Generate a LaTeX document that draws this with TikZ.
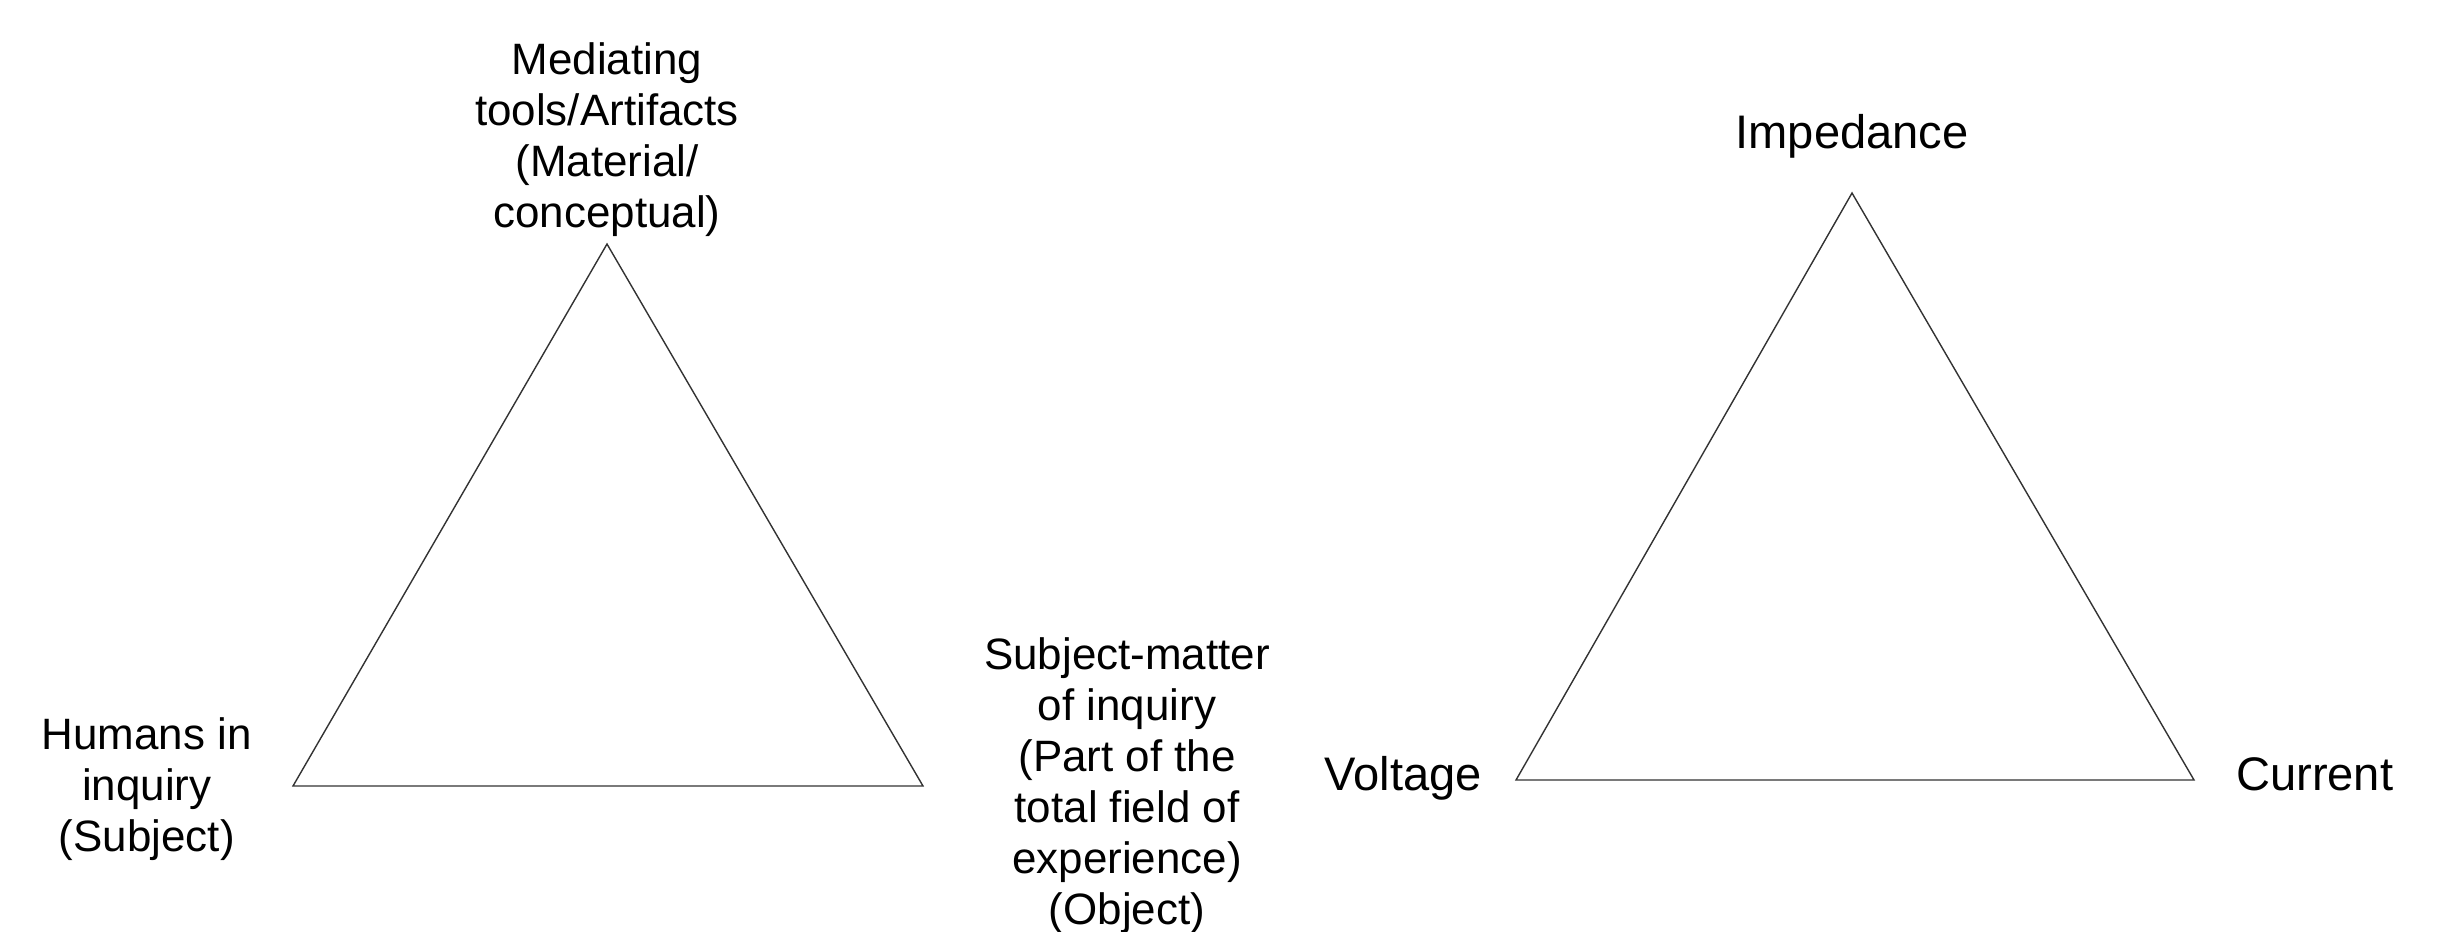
\documentclass[tikz,border=0pt]{standalone}
\usepackage{fontspec}
\setmainfont{Liberation Sans}
\usepackage{xcolor}
\usepackage{tikz}
\usetikzlibrary{positioning}

\begin{document}
\begin{tikzpicture}[
    lbl/.style={align=center, inner sep=1pt, font=\fontsize{12.5}{14.5}\selectfont},
    biglbl/.style={inner sep=1pt, font=\fontsize{13.4}{15.5}\selectfont},
    edge/.style={draw=black!80, line width=0.4pt}
]
    \useasboundingbox (0,0) rectangle (24.4,-9.31);
    % activity triangle
    \coordinate (medTop) at (6.07,-2.44);
    \coordinate (humLeft) at (2.93,-7.86);
    \coordinate (objRight) at (9.23,-7.86);
    \draw[edge] (medTop) -- (humLeft) -- (objRight) -- cycle;
    \node[lbl, above=0.03cm of medTop] (med) {Mediating\\tools/Artifacts\\(Material/\\conceptual)};
    \node[lbl, left=0.37cm of humLeft, yshift=-0.03cm] (hum) {Humans in\\inquiry\\(Subject)};
    \node[lbl, right=0.57cm of objRight] (obj) {Subject-matter\\of inquiry\\(Part of the\\total field of\\experience)\\(Object)};

    % electrical triangle
    \coordinate (impTop) at (18.52,-1.93);
    \coordinate (voltLeft) at (15.16,-7.80);
    \coordinate (currRight) at (21.94,-7.80);
    \draw[edge] (impTop) -- (voltLeft) -- (currRight) -- cycle;
    \node[biglbl, above=0.31cm of impTop] (imp) {Impedance};
    \node[biglbl, left=0.30cm of voltLeft, yshift=0.02cm] (volt) {Voltage};
    \node[biglbl, right=0.38cm of currRight, yshift=0.06cm] (curr) {Current};
\end{tikzpicture}
\end{document}
